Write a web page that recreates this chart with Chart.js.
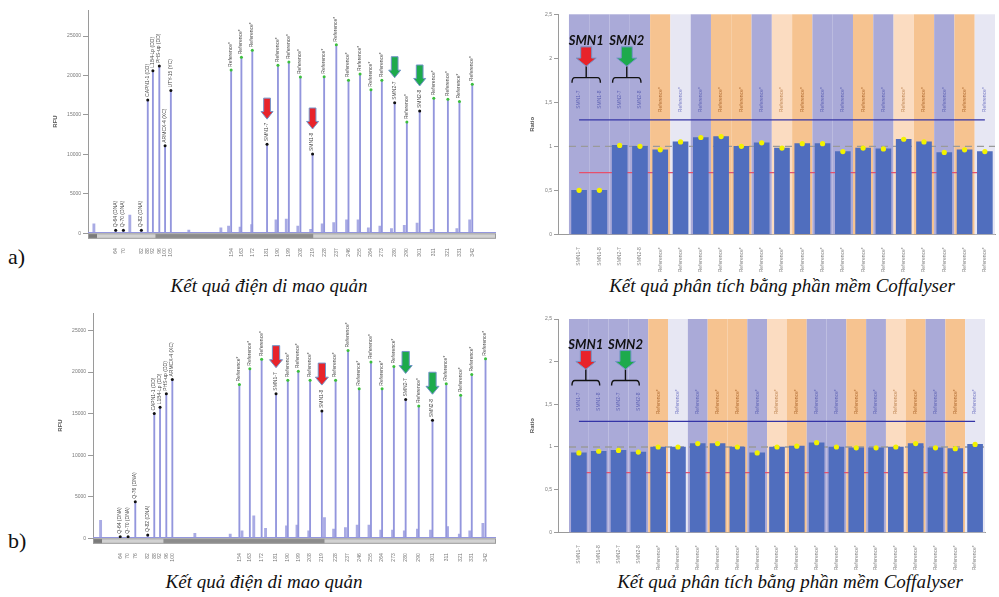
<!DOCTYPE html>
<html><head><meta charset="utf-8">
<script src="https://cdn.jsdelivr.net/npm/chart.js@4.4.0/dist/chart.umd.min.js"></script>
<style>
html,body{margin:0;padding:0;background:#fff;}
body{width:999px;height:597px;position:relative;overflow:hidden;font-family:"Liberation Serif","Times New Roman",serif;}
canvas{position:absolute;}
.cap{position:absolute;font-family:"Liberation Serif","Times New Roman",serif;font-style:italic;font-size:19px;line-height:19px;white-space:nowrap;transform:translateX(-50%);color:#111;}
.lab{position:absolute;font-size:22px;line-height:22px;color:#111;}
</style></head><body>
<canvas id="epgA" width="450" height="262" style="left:50px;top:0px"></canvas>
<canvas id="ratA" width="484" height="272" style="left:515px;top:0px"></canvas>
<canvas id="epgB" width="450" height="263" style="left:50px;top:305px"></canvas>
<canvas id="ratB" width="484" height="270" style="left:515px;top:300px"></canvas>
<div class="lab" style="left:8px;top:246px">a)</div>
<div class="lab" style="left:8px;top:530px">b)</div>
<div class="cap" style="left:269px;top:276px">Kết quả điện di mao quản</div>
<div class="cap" style="left:782px;top:276px">Kết quả phân tích bằng phần mềm Coffalyser</div>
<div class="cap" style="left:264px;top:572px">Kết quả điện di mao quản</div>
<div class="cap" style="left:790px;top:572px">Kết quả phân tích bằng phần mềm Coffalyser</div>
<script>
// ---------- DATA: electropherogram a) ----------
const peakNamesA = ["Q-64 (DNA)","Q-70 (DNA)","Q-82 (DNA)","CAPN1-1 (DD)","L1B4-Lp (DD)","PHS-up (DD)","ARMCX-4 (XC)","UTY-15 (YC)",
  "Reference*","Reference*","Reference*","SMN1-7","Reference*","Reference*","Reference*","SMN1-8","Reference*","Reference*","Reference*",
  "Reference*","Reference*","Reference*","SMN2-7","Reference*","SMN2-8","Reference*","Reference*","Reference*","Reference*"];
const peakSizesA = [64,70,84,89,93,98,102.5,107,154,162,170.5,182,190.5,199,208,217.5,226.5,236,245.5,254.5,263,271.5,281.5,291,301,312,323,332,342];
const peakHeightsA = [400,400,400,16900,20600,21200,11100,18100,20700,22300,23200,11300,21300,21700,19800,10050,19850,23900,19400,20200,18200,19400,16550,14100,15500,17100,17000,16700,18900];
const sizeTicksA = ["64","70","82","88","92","96","100","105","154","163","172","181","190","199","208","219","228","237","246","255","264","273","280","290","301","311","321","331","342"];
const minorSizesA = [47,75,121,146,152,161,170,189,197,206,216,225,234,244,253,261,270,279,289,299,310,330,340];
const minorHeightsA = [1200,2300,400,700,900,800,1100,1700,1800,900,500,1200,1350,1700,1700,700,900,600,1000,1300,500,600,1700];
const ladderA = [95,218];

// ---------- DATA: electropherogram b) ----------
const peakNamesB = ["Q-64 (DNA)","Q-70 (DNA)","Q-76 (DNA)","Q-82 (DNA)","CAPN1-1 (DD)","L1B4-Lp (DD)","PHS-up (DD)","ARMCX-4 (XC)",
  "Reference*","Reference*","Reference*","SMN1-7","Reference*","Reference*","Reference*","SMN1-8","Reference*","Reference*","Reference*",
  "Reference*","Reference*","Reference*","SMN2-7","Reference*","SMN2-8","Reference*","Reference*","Reference*","Reference*"];
const peakSizesB = [63,69,74.5,84,89,93.4,98.2,102.8,154,162,171,182,191,199,208,217,227.5,237,245.5,254.5,263,272,281,291,301.5,312,323,331.5,342];
const peakHeightsB = [200,200,4400,400,15000,15750,17400,19100,18500,20400,21550,17400,19000,20100,19000,15300,19000,22600,18000,21200,18000,20650,16700,15900,14200,18600,17200,19700,21600];
const sizeTicksB = ["64","70","76","82","88","92","96","100","154","163","172","181","190","199","208","219","228","237","246","255","264","273","280","290","301","311","321","331","342"];
const minorSizesB = [48,120,147,156,165,174,190,198,207,219,226,235,244,253,262,271,280,290,300,313,322,330,340];
const minorHeightsB = [2150,600,500,900,2700,1200,1500,1600,900,2500,1100,1300,1600,1600,1000,1000,900,1100,1000,1400,500,900,1800];
const ladderB = [96,219];
const rfuTicks = [0,5000,10000,15000,20000,25000];

// ---------- DATA: Coffalyser ratios ----------
const probeLabels = ["SMN1-7","SMN1-8","SMN2-7","SMN2-8","Reference*","Reference*","Reference*","Reference*","Reference*","Reference*",
  "Reference*","Reference*","Reference*","Reference*","Reference*","Reference*","Reference*","Reference*","Reference*","Reference*","Reference*"];
const ratioA = [0.50,0.50,1.01,1.00,0.96,1.05,1.10,1.11,1.00,1.04,0.98,1.03,1.03,0.94,0.98,0.97,1.08,1.05,0.93,0.96,0.94];
const ratioB = [0.93,0.95,0.96,0.94,1.00,1.00,1.04,1.04,1.00,0.93,1.00,1.01,1.05,1.00,0.99,0.99,1.00,1.04,0.99,0.98,1.03];
const ratioTicks = [0,0.5,1,1.5,2,2.5];
const upperLimit = 1.3, lowerLimit = 0.7, medianRatio = 1.0;
const smnGroups = [{name:"SMN1", from:0, to:1}, {name:"SMN2", from:2, to:3}];

// ---------- STYLES ----------
const P = '#aaaad8', O = '#f6c390', L = '#e7e7f3', C = '#fbdcc1';
const bandStyle = [P,P,P,P,O,L,P,O,O,P,C,O,P,P,O,P,C,O,P,O,L];
const bandText = {[P]:'#5e62b4',[O]:'#b06a30',[L]:'#7478c4',[C]:'#bf8654'};
const PEAK = '#9396dd';
const RED = '#e8232a', GREEN = '#1daa4c';

Chart.defaults.font.family = '"Liberation Sans", Arial, sans-serif';
Chart.defaults.animation = false;

function blockArrow(ctx, cx, tipY, w, h, headFrac, shaftFrac, color){
  const headH = h*headFrac, sw = w*shaftFrac;
  ctx.beginPath();
  ctx.moveTo(cx - sw/2, tipY - h);
  ctx.lineTo(cx + sw/2, tipY - h);
  ctx.lineTo(cx + sw/2, tipY - headH);
  ctx.lineTo(cx + w/2, tipY - headH);
  ctx.lineTo(cx, tipY);
  ctx.lineTo(cx - w/2, tipY - headH);
  ctx.lineTo(cx - sw/2, tipY - headH);
  ctx.closePath();
  ctx.fillStyle = color; ctx.fill();
  ctx.strokeStyle = '#7394c8'; ctx.lineWidth = 1; ctx.stroke();
}

function makeEpg(id, D, G){
  const peaks = D.sizes.map((s,i)=>({x:s, y:D.heights[i]}));
  const minors = D.minorSizes.map((s,i)=>({x:s, y:D.minorHeights[i]}));
  const plugin = {
    id:'epg_'+id,
    beforeDatasetsDraw(chart){
      const {ctx, chartArea:a, scales:{y}} = chart;
      const y0 = Math.round(y.getPixelForValue(0)) - 0.5;
      ctx.save(); ctx.strokeStyle = PEAK; ctx.lineWidth = 1;
      ctx.beginPath(); ctx.moveTo(a.left, y0); ctx.lineTo(a.right, y0); ctx.stroke(); ctx.restore();
    },
    afterDatasetsDraw(chart){
      const {ctx, scales:{x,y}} = chart;
      ctx.save();
      ctx.font = '5px "Liberation Sans", Arial, sans-serif';
      ctx.fillStyle = '#4a4a4a'; ctx.textAlign = 'left'; ctx.textBaseline = 'middle';
      D.names.forEach((n,i)=>{
        const px = x.getPixelForValue(D.sizes[i]), py = y.getPixelForValue(D.heights[i]);
        ctx.save(); ctx.translate(px - 0.5, py - 3); ctx.rotate(-Math.PI/2); ctx.fillText(n, 0, 0); ctx.restore();
      });
      D.names.forEach((n,i)=>{
        if (!n.startsWith('SMN')) return;
        const px = x.getPixelForValue(D.sizes[i]), py = y.getPixelForValue(D.heights[i]);
        blockArrow(ctx, px, py - G.arrowGap, G.arrowW, G.arrowH, 0.36, 0.56, n.startsWith('SMN1') ? RED : GREEN);
      });
      ctx.restore();
    },
    afterDraw(chart){
      const {ctx, chartArea:a, scales:{x}} = chart;
      const top = a.bottom + 0.5;
      ctx.save();
      ctx.fillStyle = '#d2d2d2'; ctx.fillRect(a.left, top, a.right - a.left, 4.5);
      const l1 = x.getPixelForValue(D.ladder[0]), l2 = x.getPixelForValue(D.ladder[1]);
      ctx.fillStyle = '#8c8c8c'; ctx.fillRect(l1, top, l2 - l1, 4.5);
      ctx.fillStyle = '#7a7a7a'; ctx.fillRect(a.left, top, 9, 4.5);
      ctx.strokeStyle = '#9a9a9a'; ctx.lineWidth = 1; ctx.strokeRect(a.left + 0.5, top, a.right - a.left - 1, 4.5);
      ctx.restore();
    }
  };
  new Chart(document.getElementById(id), {
    type:'bar',
    data:{datasets:[
      {type:'scatter', data:peaks, pointRadius:1.5, pointBorderWidth:0,
       pointBackgroundColor:D.names.map(n=>n.startsWith('Reference') ? '#3cc03c' : '#111'), order:0},
      {data:peaks, backgroundColor:PEAK, barThickness:1.2, grouped:false, order:1},
      {data:minors, backgroundColor:'rgba(147,150,221,0.8)', barThickness:2.2, grouped:false, order:2}
    ]},
    options:{
      responsive:false, animation:false, devicePixelRatio:1,
      layout:{padding:{top:G.padTop, right:0, left:0, bottom:0}},
      plugins:{legend:{display:false}, tooltip:{enabled:false}},
      scales:{
        x:{type:'linear', min:G.xmin, max:G.xmax, offset:false,
           grid:{display:false, offset:false}, border:{display:false},
           afterBuildTicks:s=>{ s.ticks = D.sizes.map(v=>({value:v})); },
           afterFit:s=>{ s.height = G.xH; },
           ticks:{autoSkip:false, minRotation:90, maxRotation:90, padding:7, color:'#777',
                  font:{size:5}, callback:(v,i)=>D.tickText[i]}},
        y:{min:0, max:G.ymax,
           grid:{display:true, drawOnChartArea:false, drawTicks:true, tickLength:5, color:'#9a9a9a'},
           border:{color:'#9a9a9a'},
           afterBuildTicks:s=>{ s.ticks = rfuTicks.map(v=>({value:v})); },
           afterFit:s=>{ s.width = G.yW; },
           ticks:{padding:2, color:'#777', font:{size:5}, callback:v=>String(v)},
           title:{display:true, text:'RFU', color:'#555', font:{size:6, weight:'bold'}, padding:{top:G.titlePad, bottom:0}}}
      }
    },
    plugins:[plugin]
  });
}

function makeRatio(id, values, G){
  const pts = values.map((v,i)=>({x:i, y:v}));
  const plugin = {
    id:'rat_'+id,
    beforeDatasetsDraw(chart){
      const {ctx, scales:{x,y}} = chart;
      const yt = y.getPixelForValue(2.5), yb = y.getPixelForValue(0);
      ctx.save();
      probeLabels.forEach((lab,i)=>{
        const l = x.getPixelForValue(i-0.5), r = x.getPixelForValue(i+0.5);
        ctx.fillStyle = bandStyle[i]; ctx.fillRect(l, yt, r-l, yb-yt);
      });
      ctx.font = '5px "Liberation Sans", Arial, sans-serif';
      ctx.textAlign = 'center'; ctx.textBaseline = 'middle';
      probeLabels.forEach((lab,i)=>{
        ctx.save(); ctx.fillStyle = bandText[bandStyle[i]];
        ctx.translate(x.getPixelForValue(i), y.getPixelForValue(1.53)); ctx.rotate(-Math.PI/2);
        ctx.fillText(lab, 0, 0); ctx.restore();
      });
      const xl = x.getPixelForValue(-0.5), xr = x.getPixelForValue(values.length-0.5);
      const x0 = x.getPixelForValue(0), x1 = x.getPixelForValue(values.length-1);
      ctx.setLineDash([7,5]); ctx.strokeStyle = '#9a9a9a'; ctx.lineWidth = 1.3;
      ctx.beginPath(); ctx.moveTo(xl, y.getPixelForValue(medianRatio)); ctx.lineTo(xr, y.getPixelForValue(medianRatio)); ctx.stroke();
      ctx.setLineDash([]);
      ctx.strokeStyle = '#3434a6'; ctx.lineWidth = 1.3;
      ctx.beginPath(); ctx.moveTo(x0, y.getPixelForValue(upperLimit)); ctx.lineTo(x1, y.getPixelForValue(upperLimit)); ctx.stroke();
      ctx.strokeStyle = '#e6506c';
      ctx.beginPath(); ctx.moveTo(x0, y.getPixelForValue(lowerLimit)); ctx.lineTo(x1, y.getPixelForValue(lowerLimit)); ctx.stroke();
      ctx.restore();
    },
    afterDatasetsDraw(chart){
      const {ctx, scales:{x,y}} = chart;
      ctx.save();
      smnGroups.forEach((g,k)=>{
        const L = x.getPixelForValue(g.from - 0.35), R = x.getPixelForValue(g.to + 0.05);
        const cx = (L+R)/2;
        ctx.fillStyle = '#111'; ctx.font = 'italic bold 13px Lato, "Open Sans", sans-serif';
        ctx.textAlign = 'center'; ctx.textBaseline = 'alphabetic';
        ctx.fillText(g.name, cx, y.getPixelForValue(2.15));
        const top = y.getPixelForValue(2.13), tip = y.getPixelForValue(1.91), by = y.getPixelForValue(1.78);
        ctx.strokeStyle = '#111'; ctx.lineWidth = 1.4;
        ctx.beginPath(); ctx.moveTo(cx, tip); ctx.lineTo(cx, by); ctx.stroke();
        ctx.beginPath(); ctx.moveTo(L, by+5); ctx.quadraticCurveTo(L, by, L+3, by); ctx.lineTo(R-3, by);
        ctx.quadraticCurveTo(R, by, R, by+5); ctx.stroke();
        blockArrow(ctx, cx, tip, 20, tip-top, 0.42, 0.55, k===0 ? RED : GREEN);
      });
      ctx.restore();
    }
  };
  new Chart(document.getElementById(id), {
    type:'bar',
    data:{datasets:[
      {type:'scatter', data:pts, pointRadius:2.6, pointBorderWidth:0, pointBackgroundColor:'#f2f200', order:0},
      {data:pts, backgroundColor:'#506ebe', barThickness:15, grouped:false, order:1}
    ]},
    options:{
      responsive:false, animation:false, devicePixelRatio:1,
      layout:{padding:{top:G.padTop, right:G.padRight, left:0, bottom:0}},
      plugins:{legend:{display:false}, tooltip:{enabled:false}},
      scales:{
        x:{type:'linear', min:G.xmin, max:values.length-0.5, offset:false,
           grid:{display:false, offset:false}, border:{color:'#9a9a9a'},
           afterBuildTicks:s=>{ s.ticks = probeLabels.map((_,i)=>({value:i})); },
           afterFit:s=>{ s.height = G.xH; },
           ticks:{autoSkip:false, minRotation:90, maxRotation:90, padding:5, color:'#808080',
                  font:{size:5}, callback:(v,i)=>probeLabels[i]}},
        y:{min:0, max:2.5,
           grid:{display:true, drawOnChartArea:false, drawTicks:true, tickLength:4, color:'#9a9a9a'},
           border:{color:'#9a9a9a'},
           afterBuildTicks:s=>{ s.ticks = ratioTicks.map(v=>({value:v})); },
           afterFit:s=>{ s.width = 43; },
           ticks:{padding:2, color:'#777', font:{size:5}, callback:v=>String(v).replace('.',',')},
           title:{display:true, text:'Ratio', color:'#555', font:{size:6, weight:'bold'}, padding:{top:14, bottom:0}}}
      }
    },
    plugins:[plugin]
  });
}

makeEpg('epgA', {names:peakNamesA, sizes:peakSizesA, heights:peakHeightsA, tickText:sizeTicksA,
  minorSizes:minorSizesA, minorHeights:minorHeightsA, ladder:ladderA},
  {xmin:42.4, xmax:360.5, ymax:28300, padTop:10, yW:38, xH:28.7, titlePad:1.5, arrowGap:25, arrowW:12, arrowH:21});
makeEpg('epgB', {names:peakNamesB, sizes:peakSizesB, heights:peakHeightsB, tickText:sizeTicksB,
  minorSizes:minorSizesB, minorHeights:minorHeightsB, ladder:ladderB},
  {xmin:42.2, xmax:350, ymax:27100, padTop:8, yW:43, xH:29.7, titlePad:6.5, arrowGap:26, arrowW:13, arrowH:22});
makeRatio('ratA', ratioA, {xmin:-1.04, padTop:14.3, padRight:3, xH:37.7});
makeRatio('ratB', ratioB, {xmin:-1.055, padTop:19, padRight:14, xH:37.7});
</script>
</body></html>
